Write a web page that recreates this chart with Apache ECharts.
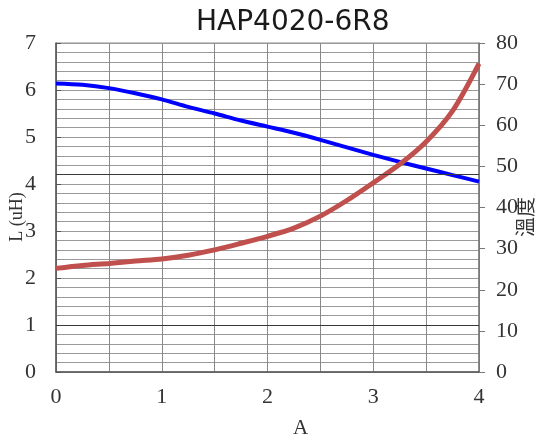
<!DOCTYPE html>
<html>
<head>
<meta charset="utf-8">
<script src="https://cdn.jsdelivr.net/npm/echarts@6/dist/echarts.min.js"></script>
<style>
  html, body { margin: 0; padding: 0; background: #fff; }
  #chart { width: 536px; height: 441px; }
</style>
</head>
<body>
<div id="chart"></div>
<script>
// Current (A) sample points shared by both curves
const current = [0, 0.25, 0.5, 0.75, 1, 1.25, 1.5, 1.75, 2, 2.25, 2.5, 2.75, 3, 3.25, 3.5, 3.75, 4];

// Inductance in uH (left axis)
const inductance = [6.14, 6.11, 6.04, 5.93, 5.80, 5.64, 5.50, 5.35, 5.22, 5.09, 4.94, 4.78, 4.62, 4.47, 4.33, 4.19, 4.05];

// Temperature (right axis)
const temperature = [25.2, 25.9, 26.4, 27.0, 27.5, 28.4, 29.7, 31.3, 33.0, 35.0, 37.9, 41.7, 46.0, 50.5, 56.0, 63.5, 75.0];

// Axis ranges and tick labels
const currentTicks = [0, 1, 2, 3, 4];
const inductanceTicks = [0, 1, 2, 3, 4, 5, 6, 7];
const temperatureTicks = [0, 10, 20, 30, 40, 50, 60, 70, 80];

// Emphasised reference lines on the inductance scale
const referenceLines = [1, 4.2];

const serif = 'Liberation Serif';
const gridGray = '#9a9a9a';

const chart = echarts.init(document.getElementById('chart'), null, { renderer: 'canvas' });

chart.setOption({
  animation: false,
  backgroundColor: '#ffffff',
  title: {
    text: 'HAP4020-6R8',
    left: 191,
    top: 4,
    textStyle: { fontFamily: 'DejaVu Sans', fontSize: 28, fontWeight: 'normal', color: '#1a1a1a' }
  },
  grid: {
    left: 56, right: 57, top: 43, bottom: 69,
    outerBoundsMode: 'none',
    containLabel: false,
    show: true, borderColor: '#8c8c8c', borderWidth: 1
  },
  // vertical axis titles, placed beside the value labels
  graphic: [
    {
      type: 'text',
      x: 17, y: 217,
      rotation: Math.PI / 2,
      style: {
        text: 'L (uH)', fontFamily: serif, fontSize: 18, fill: '#333',
        align: 'center', verticalAlign: 'middle'
      }
    },
    {
      type: 'text',
      x: 525, y: 217,
      rotation: Math.PI / 2,
      style: {
        text: '溫度', fontFamily: 'Noto Sans CJK TC', fontSize: 20, fill: '#333',
        align: 'center', verticalAlign: 'middle'
      }
    }
  ],
  xAxis: {
    type: 'value',
    min: currentTicks[0],
    max: currentTicks[currentTicks.length - 1],
    interval: 1,
    name: 'A',
    nameLocation: 'middle',
    nameGap: 46,
    nameMoveOverlap: false,
    nameTextStyle: { fontFamily: serif, fontSize: 21, color: '#333', padding: [0, 0, 0, 66] },
    axisLine: { show: true, lineStyle: { color: '#555', width: 1.5 } },
    axisTick: { show: false },
    axisLabel: { fontFamily: serif, fontSize: 22, color: '#333', margin: 14 },
    splitLine: { show: true, lineStyle: { color: '#888', width: 1 } },
    minorTick: { show: false, splitNumber: 2 },
    minorSplitLine: { show: true, lineStyle: { color: '#888', width: 1 } }
  },
  yAxis: [
    {
      type: 'value',
      position: 'left',
      min: inductanceTicks[0],
      max: inductanceTicks[inductanceTicks.length - 1],
      interval: 1,
      axisLine: { show: true, lineStyle: { color: '#555', width: 1.5 } },
      axisTick: { show: true, inside: true, length: 5, lineStyle: { color: '#555' } },
      axisLabel: { fontFamily: serif, fontSize: 22, color: '#333', margin: 20 },
      splitLine: { show: true, lineStyle: { color: gridGray, width: 1 } },
      minorTick: { show: false, splitNumber: 5 },
      minorSplitLine: { show: true, lineStyle: { color: gridGray, width: 1 } }
    },
    {
      type: 'value',
      position: 'right',
      min: temperatureTicks[0],
      max: temperatureTicks[temperatureTicks.length - 1],
      interval: 10,
      axisLine: { show: true, lineStyle: { color: '#777', width: 1.5 } },
      axisTick: { show: true, inside: false, length: 6, lineStyle: { color: '#777' } },
      axisLabel: { fontFamily: serif, fontSize: 22, color: '#333', margin: 17 },
      splitLine: { show: false }
    }
  ],
  series: [
    {
      name: 'L',
      type: 'line',
      yAxisIndex: 0,
      smooth: 0.3,
      symbol: 'none',
      data: current.map((a, i) => [a, inductance[i]]),
      lineStyle: { color: '#0000ff', width: 4 },
      z: 3,
      markLine: {
        silent: true,
        symbol: 'none',
        label: { show: false },
        lineStyle: { color: '#3a3a3a', width: 1.2, type: 'solid' },
        data: referenceLines.map(v => ({ yAxis: v }))
      }
    },
    {
      name: '溫度',
      type: 'line',
      yAxisIndex: 1,
      smooth: 0.3,
      symbol: 'none',
      data: current.map((a, i) => [a, temperature[i]]),
      lineStyle: { color: '#c0504d', width: 5 },
      z: 4
    }
  ]
});
</script>
</body>
</html>
